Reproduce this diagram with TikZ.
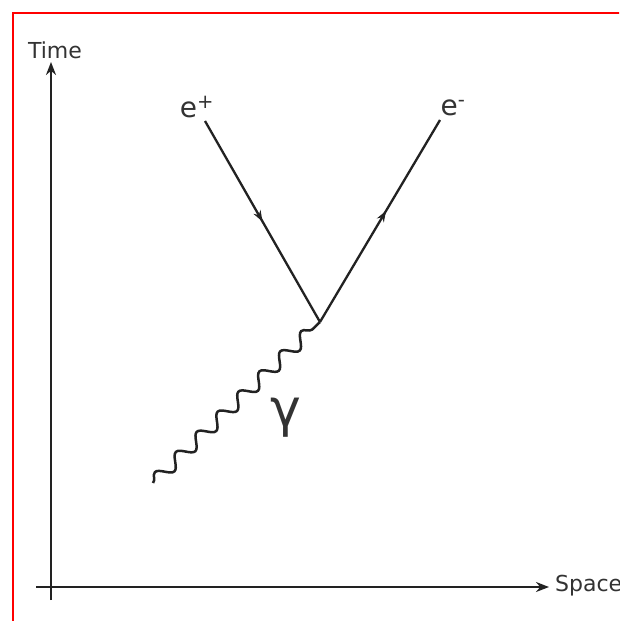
\documentclass[tikz,border=0pt]{standalone}
\usepackage{fontspec}
\setmainfont{DejaVu Sans}
\usetikzlibrary{arrows.meta,decorations.pathmorphing,decorations.markings}
\definecolor{ink}{HTML}{222222}
\definecolor{txt}{HTML}{333333}
\tikzset{
  axisline/.style={draw=ink,line width=2.4pt,-{Stealth[length=13pt,width=10pt]}},
  fermion/.style={draw=ink,line width=2.3pt,postaction={decorate},
    decoration={markings,mark=at position #1 with {\arrow{Stealth[length=11pt,width=8pt]}}}},
  photon/.style={draw=ink,line width=2.5pt,decorate,
    decoration={snake,segment length=29pt,amplitude=6.5pt}},
  lbl/.style={text=txt,inner sep=0pt,font=\fontsize{22}{26}\selectfont},
  elbl/.style={text=txt,inner sep=0pt,font=\fontsize{28}{32}\selectfont},
}
\begin{document}
\begin{tikzpicture}[x=1pt,y=-1pt]
\useasboundingbox (0,0) rectangle (619,621);
\clip (0,0) rectangle (619,621);
\fill[white] (0,0) rectangle (619,621);
\draw[red,line width=2.5pt] (13,13) rectangle (640,640);
% axes
\coordinate (tbot) at (51,600);
\coordinate (ttop) at (51,62);
\coordinate (sl) at (36,587);
\coordinate (sr) at (549,587);
\draw[axisline] (tbot) -- (ttop);
\draw[axisline] (sl) -- (sr);
\node[lbl] (time) at (55,50) {Time};
\node[lbl,anchor=west] (space) at (555,586) {Space};
% vertex
\coordinate (v) at (320,322);
\coordinate (pa) at (205,121);
\coordinate (ea) at (440,120);
\coordinate (ga) at (153,483);
\draw[fermion=0.5] (pa) -- (v);
\draw[fermion=0.55] (v) -- (ea);
\draw[photon] (ga) -- (v);
\node[elbl] (ep) at (197,107) {e\textsuperscript{+}};
\node[elbl] (em) at (453,108) {e\textsuperscript{-}};
\node[text=txt,inner sep=0pt,font=\fontsize{52}{58}\selectfont] (gam) at (286,418) {γ};
\end{tikzpicture}
\end{document}
